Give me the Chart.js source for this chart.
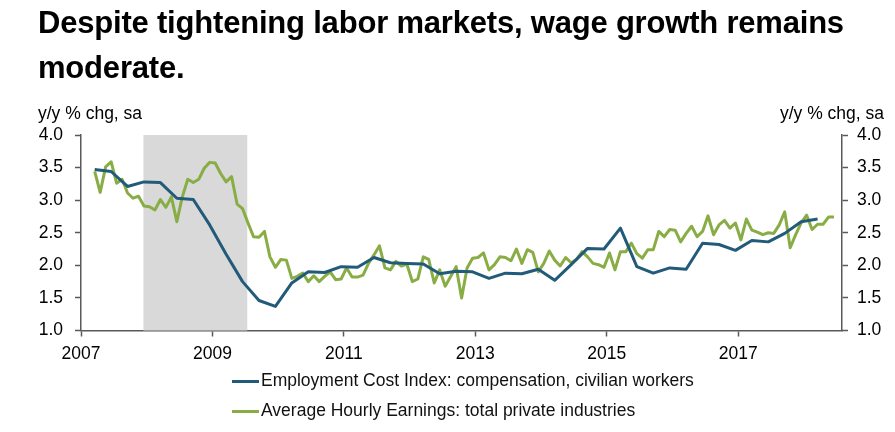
<!DOCTYPE html>
<html><head><meta charset="utf-8">
<script src="https://cdn.jsdelivr.net/npm/chart.js@4.4.1/dist/chart.umd.min.js"></script>
<style>
html,body{margin:0;padding:0;background:#fff;}
#wrap{position:relative;width:895px;height:432px;overflow:hidden;font-family:'Liberation Sans',Arial,sans-serif;color:#000;}
#c{position:absolute;left:0;top:0;}
.title{position:absolute;left:38px;top:0;font-size:31px;font-weight:bold;line-height:45px;letter-spacing:-0.2px;white-space:nowrap;}
.unit{position:absolute;top:103px;font-size:17.5px;line-height:20px;white-space:nowrap;}
.legend{position:absolute;left:232px;font-size:17.5px;line-height:20px;white-space:nowrap;color:#111;}
.legend .sw{display:inline-block;width:27px;height:3px;vertical-align:middle;margin-right:2px;}
</style>
</head>
<body>
<div id="wrap">
  <canvas id="c" width="895" height="432"></canvas>
  <div class="title">Despite tightening labor markets, wage growth remains<br>moderate.</div>
  <div class="unit" style="left:38px;">y/y % chg, sa</div>
  <div class="unit" style="right:11px;">y/y % chg, sa</div>
  <div class="legend" id="lg0" style="top:370px;"></div>
  <div class="legend" id="lg1" style="top:400px;"></div>
</div>
<script>
// ---- data ----
const seriesNames = ['Employment Cost Index: compensation, civilian workers',
                     'Average Hourly Earnings: total private industries'];
const seriesColors = ['#215B79', '#89AD45'];

// ECI: quarterly, first observation 2007 Q1 (March)
const eciStart = [2007, 3];
const eciValues = [3.47, 3.44, 3.21, 3.28, 3.27, 3.03, 3.01, 2.62, 2.17, 1.75, 1.46, 1.37,
                   1.73, 1.90, 1.89, 1.98, 1.97, 2.12, 2.04, 2.03, 2.02, 1.87, 1.91, 1.90,
                   1.80, 1.88, 1.87, 1.94, 1.77, 2.01, 2.26, 2.25, 2.57, 1.98, 1.88, 1.96,
                   1.94, 2.34, 2.32, 2.23, 2.38, 2.36, 2.49, 2.67, 2.71];

// AHE: monthly, first observation March 2007
const aheStart = [2007, 3];
const ahe2007 = [3.44, 3.12, 3.51, 3.59, 3.26, 3.32, 3.11, 3.03, 3.06, 2.91];
const ahe2008 = [2.90, 2.85, 3.01, 2.89, 3.05, 2.67, 3.05, 3.32, 3.27, 3.32, 3.49, 3.58];
const ahe2009 = [3.57, 3.41, 3.28, 3.36, 2.94, 2.87, 2.65, 2.44, 2.43, 2.52, 2.13, 1.97];
const ahe2010 = [2.09, 2.08, 1.80, 1.83, 1.88, 1.75, 1.84, 1.75, 1.83, 1.90, 1.78, 1.79];
const ahe2011 = [1.96, 1.82, 1.82, 1.85, 2.03, 2.16, 2.30, 1.96, 1.93, 2.06, 1.99, 2.02];
const ahe2012 = [1.75, 1.79, 2.13, 2.09, 1.73, 1.93, 1.68, 1.83, 1.98, 1.50, 1.96, 2.11];
const ahe2013 = [2.12, 2.19, 1.93, 2.01, 2.13, 2.12, 2.07, 2.25, 2.03, 2.24, 2.20, 1.90];
const ahe2014 = [2.03, 2.22, 2.08, 1.99, 2.12, 2.04, 2.09, 2.21, 2.13, 2.03, 2.01, 1.97];
const ahe2015 = [2.19, 1.93, 2.21, 2.21, 2.34, 2.18, 2.11, 2.24, 2.24, 2.52, 2.44, 2.55];
const ahe2016 = [2.54, 2.36, 2.49, 2.60, 2.44, 2.52, 2.76, 2.47, 2.62, 2.69, 2.57, 2.65];
const ahe2017 = [2.39, 2.71, 2.54, 2.51, 2.47, 2.50, 2.49, 2.62, 2.82, 2.27, 2.47, 2.65];
const ahe2018 = [2.77, 2.55, 2.63, 2.63, 2.74, 2.74];
const aheValues = [].concat(ahe2007, ahe2008, ahe2009, ahe2010, ahe2011, ahe2012,
                            ahe2013, ahe2014, ahe2015, ahe2016, ahe2017, ahe2018);

const xTickYears = [2007, 2009, 2011, 2013, 2015, 2017];
const yTicks = [1.0, 1.5, 2.0, 2.5, 3.0, 3.5, 4.0];
const xRange = [2007, 2018.58];
const recession = [2007.95, 2009.53];

// ---- helpers: date -> decimal year (mid-month) ----
function dateX(year, month) { return year + (month - 0.5) / 12; }
const eciPoints = eciValues.map((v, i) => {
  const m = eciStart[1] - 1 + 3 * i;
  return { x: dateX(eciStart[0] + Math.floor(m / 12), (m % 12) + 1), y: v };
});
const ahePoints = aheValues.map((v, i) => {
  const m = aheStart[1] - 1 + i;
  return { x: dateX(aheStart[0] + Math.floor(m / 12), (m % 12) + 1), y: v };
});

// ---- legend (HTML text) ----
seriesNames.forEach((n, i) => {
  const el = document.getElementById('lg' + i);
  el.innerHTML = '<span class="sw" style="background:' + seriesColors[i] + '"></span>' + n;
});

const recessionPlugin = {
  id: 'recession',
  beforeDatasetsDraw(chart) {
    const { ctx, chartArea: a, scales } = chart;
    const x1 = scales.x.getPixelForValue(recession[0]);
    const x2 = scales.x.getPixelForValue(recession[1]);
    ctx.save();
    ctx.fillStyle = '#D9D9D9';
    ctx.fillRect(x1, a.top, x2 - x1, a.bottom - a.top);
    ctx.restore();
  }
};

const axisColor = '#595959';
const tickFont = { family: "'Liberation Sans', Arial, sans-serif", size: 17.5 };
function yAxis(pos, width, pad) {
  return {
    type: 'linear', position: pos, min: 1, max: 4,
    afterBuildTicks: s => { s.ticks = yTicks.map(v => ({ value: v })); },
    afterFit: s => { s.width = width; },
    ticks: { callback: v => Number(v).toFixed(1), font: tickFont, color: '#000', padding: pad },
    grid: { drawOnChartArea: false, drawTicks: true, tickLength: 6, tickColor: axisColor, tickWidth: 1.5 },
    border: { display: true, color: axisColor, width: 1.5 }
  };
}

new Chart(document.getElementById('c'), {
  type: 'line',
  data: {
    datasets: [
      { label: seriesNames[0], data: eciPoints, borderColor: seriesColors[0], borderWidth: 3,
        pointRadius: 0, tension: 0, yAxisID: 'y', borderJoinStyle: 'round' },
      { label: seriesNames[1], data: ahePoints, borderColor: seriesColors[1], borderWidth: 3,
        pointRadius: 0, tension: 0, yAxisID: 'y', borderJoinStyle: 'round' }
    ]
  },
  options: {
    responsive: false, animation: false, devicePixelRatio: 1,
    layout: { padding: { top: 135, left: 0, right: 0, bottom: 0 } },
    plugins: { legend: { display: false }, title: { display: false }, tooltip: { enabled: false } },
    scales: {
      x: {
        type: 'linear', min: xRange[0], max: xRange[1],
        afterBuildTicks: s => { s.ticks = xTickYears.map(v => ({ value: v })); },
        afterFit: s => { s.height = 432 - 330.5; },
        ticks: { callback: v => String(v), font: tickFont, color: '#000', padding: 7, maxRotation: 0 },
        grid: { drawOnChartArea: false, drawTicks: true, tickLength: 6, tickColor: axisColor, tickWidth: 1.5 },
        border: { display: true, color: axisColor, width: 1.5 }
      },
      y: yAxis('left', 81, 12),
      y2: yAxis('right', 53, 9)
    }
  },
  plugins: [recessionPlugin]
});
</script>
</body></html>
